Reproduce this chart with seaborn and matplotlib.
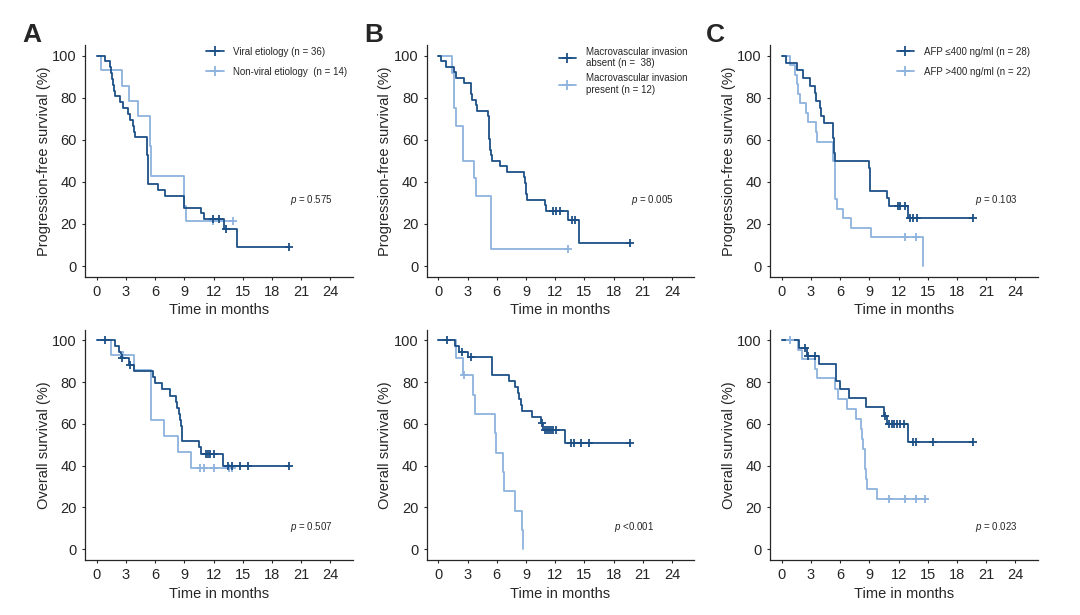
import numpy as np
import pandas as pd
import matplotlib
matplotlib.use('Agg')
import matplotlib.pyplot as plt
from matplotlib.lines import Line2D
import seaborn as sns

sns.set_style('ticks')
plt.rcParams['font.family'] = ['Liberation Sans', 'DejaVu Sans']
plt.rcParams['mathtext.fontset'] = 'custom'
plt.rcParams['mathtext.it'] = 'Liberation Sans:italic'

DARK = '#1b4f86'
LIGHT = '#8db3de'

# ---- A: etiology ----
a_pfs_dark_t = [0, 0.85, 1.35, 1.5, 1.6, 1.7, 1.8, 1.9, 2.4, 2.7, 3.25, 3.45, 3.7, 3.85, 3.95, 5.15, 5.25, 5.3, 6.3, 7.0, 9.0, 10.75, 11.0, 13.1, 14.4, 19.7]
a_pfs_dark_s = [100, 97.2, 94.4, 91.7, 88.9, 86.1, 83.3, 80.6, 77.8, 75.0, 72.2, 69.4, 66.7, 63.9, 61.1, 52.8, 44.4, 38.9, 36.1, 33.3, 27.8, 25.0, 22.2, 17.8, 8.9, 8.9]
a_pfs_dark_c = [11.9, 12.6, 13.3, 19.7]
a_pfs_light_t = [0, 0.4, 2.6, 3.35, 4.2, 5.45, 5.55, 9.0, 9.2, 14.0]
a_pfs_light_s = [100, 92.9, 85.7, 78.6, 71.4, 57.1, 42.9, 28.6, 21.4, 21.4]
a_pfs_light_c = [11.9, 14.0]

a_os_dark_t = [0, 1.9, 2.3, 2.5, 3.3, 3.8, 5.8, 5.95, 6.7, 7.5, 8.1, 8.2, 8.5, 8.6, 8.7, 8.75, 8.8, 10.5, 10.75, 13.0, 19.7]
a_os_dark_s = [100, 97.2, 94.4, 91.7, 88.2, 85.3, 82.3, 79.4, 76.5, 73.5, 70.6, 67.6, 64.7, 61.8, 58.8, 55.9, 51.7, 48.8, 45.6, 39.7, 39.7]
a_os_dark_c = [0.85, 2.65, 3.4, 11.2, 11.4, 11.6, 12.0, 13.5, 13.9, 14.7, 15.5, 19.7]
a_os_light_t = [0, 1.5, 3.8, 5.6, 6.9, 8.4, 9.7, 14.2]
a_os_light_s = [100, 92.9, 85.7, 61.9, 54.2, 46.4, 38.7, 38.7]
a_os_light_c = [2.7, 10.6, 11.0, 12.0, 13.6, 13.9]

# ---- B: macrovascular invasion ----
b_pfs_dark_t = [0, 0.3, 0.8, 1.6, 1.8, 2.6, 3.35, 3.4, 3.45, 3.85, 4.0, 5.15, 5.2, 5.25, 5.35, 5.45, 5.55, 6.3, 7.1, 8.85, 8.95, 9.05, 9.1, 10.95, 11.05, 13.3, 14.4, 19.7]
b_pfs_dark_s = [100, 97.4, 94.7, 92.1, 89.5, 86.8, 84.2, 81.6, 78.9, 76.3, 73.7, 71.1, 65.8, 60.5, 55.3, 52.6, 50.0, 47.4, 44.7, 42.1, 39.5, 34.2, 31.6, 28.9, 26.3, 21.9, 11.0, 11.0]
b_pfs_dark_c = [11.8, 12.05, 12.5, 13.7, 14.0, 19.7]
b_pfs_light_t = [0, 1.4, 1.6, 1.8, 2.5, 3.7, 3.85, 5.4, 13.3]
b_pfs_light_s = [100, 91.7, 75.0, 66.7, 50.0, 41.7, 33.3, 8.3, 8.3]
b_pfs_light_c = [13.3]

b_os_dark_t = [0, 1.7, 2.1, 3.0, 5.5, 7.3, 7.9, 8.15, 8.3, 8.45, 8.6, 9.6, 10.5, 10.7, 13.0, 19.7]
b_os_dark_s = [100, 97.4, 94.7, 91.9, 83.3, 80.5, 77.7, 74.9, 72.0, 69.2, 66.0, 63.2, 60.3, 57.0, 50.7, 50.7]
b_os_dark_c = [0.9, 2.4, 3.4, 10.6, 11.0, 11.2, 11.4, 11.6, 11.8, 12.1, 13.6, 13.9, 14.7, 15.5, 19.7]
b_os_light_t = [0, 1.8, 2.5, 3.6, 3.8, 5.8, 5.9, 6.6, 6.75, 7.9, 8.55, 8.7]
b_os_light_s = [100, 91.7, 83.3, 74.0, 64.8, 55.5, 46.3, 37.0, 27.8, 18.5, 9.3, 0]
b_os_light_c = [2.6]

# ---- C: AFP ----
c_pfs_dark_t = [0, 0.4, 1.6, 2.2, 2.9, 3.4, 3.5, 3.9, 4.0, 4.3, 5.3, 5.4, 5.5, 9.0, 9.1, 10.8, 11.0, 13.0, 19.6]
c_pfs_dark_s = [100, 96.4, 92.9, 89.3, 85.7, 82.1, 78.6, 75.0, 71.4, 67.9, 60.7, 53.6, 50.0, 46.4, 35.7, 32.1, 28.6, 22.7, 22.7]
c_pfs_dark_c = [11.9, 12.1, 12.7, 13.2, 13.5, 13.9, 19.6]
c_pfs_light_t = [0, 0.9, 1.4, 1.55, 1.65, 1.9, 2.5, 2.7, 3.5, 3.6, 5.3, 5.45, 5.5, 5.7, 6.3, 7.1, 9.2, 14.5]
c_pfs_light_s = [100, 95.5, 90.9, 86.4, 81.8, 77.3, 72.7, 68.2, 63.6, 59.1, 50.0, 40.9, 31.8, 27.3, 22.7, 18.2, 13.6, 0]
c_pfs_light_c = [12.7, 13.8]

c_os_dark_t = [0, 1.8, 2.6, 3.8, 5.6, 6.0, 6.9, 8.7, 10.5, 10.8, 13.0, 19.6]
c_os_dark_s = [100, 96.4, 92.6, 88.7, 80.8, 76.8, 72.5, 68.3, 64.0, 60.0, 51.4, 51.4]
c_os_dark_c = [2.4, 2.7, 3.4, 10.6, 11.0, 11.3, 11.5, 11.8, 12.1, 12.6, 13.5, 13.8, 15.5, 19.6]
c_os_light_t = [0, 1.7, 2.1, 3.4, 3.6, 5.5, 5.8, 6.7, 7.6, 8.1, 8.2, 8.35, 8.5, 8.6, 8.7, 8.8, 9.75, 15.0]
c_os_light_s = [100, 95.5, 90.9, 86.4, 81.8, 76.5, 72.1, 67.3, 62.5, 57.7, 52.9, 48.1, 43.3, 38.5, 33.7, 28.8, 24.0, 24.0]
c_os_light_c = [0.9, 11.0, 12.7, 13.8, 14.7]

a_labels = ['Viral etiology (n = 36)', 'Non-viral etiology  (n = 14)']
b_labels = ['Macrovascular invasion\nabsent (n =  38)', 'Macrovascular invasion\npresent (n = 12)']
c_labels = ['AFP \u2264400 ng/ml (n = 28)', 'AFP >400 ng/ml (n = 22)']

pvals = [['0.575', '0.507'], ['0.005', '<0.001'], ['0.103', '0.023']]
p_sep = [[' = ', ' = '], [' = ', ' '], [' = ', ' = ']]
p_x = [[19.8, 19.8], [19.8, 18.0], [19.8, 19.8]]

panels = [
    ('A', a_labels,
     [(a_pfs_dark_t, a_pfs_dark_s, a_pfs_dark_c), (a_pfs_light_t, a_pfs_light_s, a_pfs_light_c)],
     [(a_os_dark_t, a_os_dark_s, a_os_dark_c), (a_os_light_t, a_os_light_s, a_os_light_c)]),
    ('B', b_labels,
     [(b_pfs_dark_t, b_pfs_dark_s, b_pfs_dark_c), (b_pfs_light_t, b_pfs_light_s, b_pfs_light_c)],
     [(b_os_dark_t, b_os_dark_s, b_os_dark_c), (b_os_light_t, b_os_light_s, b_os_light_c)]),
    ('C', c_labels,
     [(c_pfs_dark_t, c_pfs_dark_s, c_pfs_dark_c), (c_pfs_light_t, c_pfs_light_s, c_pfs_light_c)],
     [(c_os_dark_t, c_os_dark_s, c_os_dark_c), (c_os_light_t, c_os_light_s, c_os_light_c)]),
]


def draw_km(ax, curves):
    # light curve first so the dark one sits on top
    for (t, s, c), col in reversed(list(zip(curves, [DARK, LIGHT]))):
        df = pd.DataFrame({'t': t, 's': s})
        sns.lineplot(data=df, x='t', y='s', ax=ax, color=col, lw=1.3,
                     drawstyle='steps-post', estimator=None, sort=False)
        idx = np.searchsorted(t, c, side='right') - 1
        cdf = pd.DataFrame({'t': c, 's': np.array(s)[idx]})
        sns.scatterplot(data=cdf, x='t', y='s', ax=ax, color=col, marker='+',
                        s=40, linewidth=1.3, zorder=5)


def style_ax(ax, ylabel):
    ax.set_xlim(-1.2, 26.3)
    ax.set_ylim(-5.2, 105)
    ax.set_xticks(range(0, 25, 3))
    ax.set_yticks(range(0, 101, 20))
    ax.tick_params(labelsize=10.5, length=2.5, width=0.8, pad=3.5)
    ax.set_xlabel('Time in months', fontsize=10.5, labelpad=3)
    ax.set_ylabel(ylabel, fontsize=10.5, labelpad=1)
    for sp in ['left', 'bottom']:
        ax.spines[sp].set_linewidth(0.9)
    sns.despine(ax=ax)


fig = plt.figure(figsize=(10.8, 6.15), dpi=100)
lefts = [0.0787, 0.395, 0.713]
leg_x = [0.42, 0.46, 0.44]
letter_x = [22, 364, 706]
W = 0.248

for i, (letter, labels, pfs, os_) in enumerate(panels):
    ax1 = fig.add_axes([lefts[i], 0.5496, W, 0.3772])
    draw_km(ax1, pfs)
    style_ax(ax1, 'Progression-free survival (%)')
    handles = [Line2D([], [], color=DARK, lw=1.3, marker='+', ms=7, mew=1.3),
               Line2D([], [], color=LIGHT, lw=1.3, marker='+', ms=7, mew=1.3)]
    ax1.legend(handles, labels, loc='upper left', bbox_to_anchor=(leg_x[i], 1.03),
               frameon=False, fontsize=7, handlelength=1.8, handletextpad=1.0,
               labelspacing=1.0 if i != 1 else 0.5)
    ax1.text(p_x[i][0], 30, r'$\it{p}$' + p_sep[i][0] + pvals[i][0], fontsize=7)

    ax2 = fig.add_axes([lefts[i], 0.0894, W, 0.374])
    draw_km(ax2, os_)
    style_ax(ax2, 'Overall survival (%)')
    ax2.text(p_x[i][1], 9, r'$\it{p}$' + p_sep[i][1] + pvals[i][1], fontsize=7)

    fig.text(letter_x[i] / 1080, 1 - 42 / 615, letter, fontsize=19, fontweight='bold')

fig.savefig('out.png', dpi=100)
